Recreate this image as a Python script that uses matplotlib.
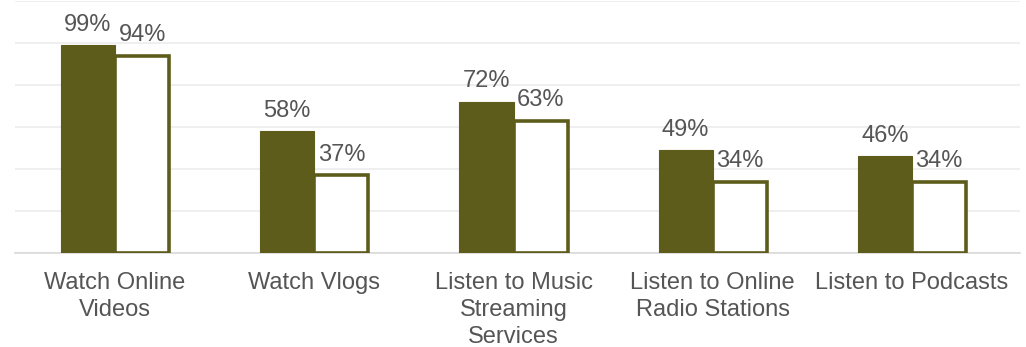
import matplotlib
matplotlib.use("Agg")
import matplotlib.pyplot as plt
import numpy as np

categories = ["Watch Online\nVideos", "Watch Vlogs", "Listen to Music\nStreaming\nServices",
              "Listen to Online\nRadio Stations", "Listen to Podcasts"]
series_a = [99, 58, 72, 49, 46]
series_b = [94, 37, 63, 34, 34]

olive = "#5e5c1b"
text_color = "#555555"
plt.rcParams["font.family"] = ["Liberation Sans", "DejaVu Sans"]

fig = plt.figure(figsize=(10.26, 3.47), dpi=100)
ax = fig.add_axes([15 / 1026, 1 - 253 / 347, 1005 / 1026, 252 / 347])

x = np.arange(len(categories))
w = 0.272
ax.bar(x - w / 2, series_a, width=w, color=olive, edgecolor=olive, linewidth=0.8, zorder=3)
ax.bar(x + w / 2, series_b, width=w, color="white", edgecolor=olive, linewidth=2.6, zorder=3)

for xi, va, vb in zip(x, series_a, series_b):
    ax.annotate(f"{va}%", (xi - w / 2, va), xytext=(0, 10.5), textcoords="offset points",
                ha="center", va="baseline", fontsize=17, color=text_color)
    ax.annotate(f"{vb}%", (xi + w / 2, vb), xytext=(0, 10.5), textcoords="offset points",
                ha="center", va="baseline", fontsize=17, color=text_color)

ax.set_xlim(-0.502, 4.542)
ax.set_ylim(0, 120)
ax.set_yticks(np.arange(0, 121, 20))
ax.yaxis.grid(True, color="#ececec", linewidth=1.2, zorder=0)
ax.set_yticklabels([])
ax.tick_params(axis="y", length=0)
ax.set_xticks(x)
ax.set_xticklabels(categories, fontsize=17, color=text_color, linespacing=1.28)
ax.tick_params(axis="x", length=0, pad=14)
for s in ["top", "right", "left"]:
    ax.spines[s].set_visible(False)
ax.spines["bottom"].set_color("#d9d9d9")
ax.spines["bottom"].set_linewidth(1.2)

fig.savefig("out.png", dpi=100)
